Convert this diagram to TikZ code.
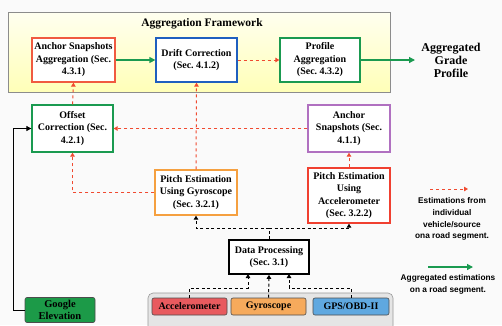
\documentclass[tikz,border=0pt]{standalone}
\usepackage{fontspec}
\setmainfont{Liberation Serif}
\setsansfont{Liberation Sans}
\usetikzlibrary{arrows.meta}
\frenchspacing
\definecolor{cRed}{HTML}{F05A40}
\definecolor{cBlue}{HTML}{1F5FBF}
\definecolor{cGreen}{HTML}{1A9A50}
\definecolor{cPurple}{HTML}{B070C0}
\definecolor{cOrange}{HTML}{F5A040}
\definecolor{cRed2}{HTML}{F04030}
\definecolor{cDash}{HTML}{F04A30}
\definecolor{fAcc}{HTML}{E85A5E}
\definecolor{fGyr}{HTML}{F6AA5C}
\definecolor{fGps}{HTML}{5FA8E0}
\definecolor{fGoo}{HTML}{1C9A48}
\tikzset{
  box/.style={draw, line width=1.3pt, fill=white, align=center, inner sep=0pt,
    font=\bfseries\fontsize{10}{12.5}\selectfont},
  sensor/.style={draw=black!70, line width=0.6pt, rounded corners=2pt, align=center, inner sep=0pt,
    font=\bfseries\fontsize{10}{11}\selectfont},
  reddash/.style={draw=cDash, line width=1pt, dash pattern=on 3pt off 3pt, -{Triangle[length=4pt,width=4.5pt]}},
  blkdash/.style={draw=black, line width=1pt, dash pattern=on 3pt off 2.5pt, -{Triangle[length=4pt,width=4.5pt]}},
  greenarr/.style={draw=cGreen, line width=1.3pt, -{Triangle[length=6pt,width=6pt]}},
  blkarr/.style={draw=black, line width=0.9pt, -{Triangle[length=5pt,width=5pt]}},
  plain/.style={align=center, font=\bfseries\fontsize{12}{13}\selectfont},
  legend/.style={align=center, font=\sffamily\bfseries\fontsize{8.3}{11.8}\selectfont}
}
\begin{document}
\begin{tikzpicture}[x=1pt,y=-1pt]
\useasboundingbox (0,0) rectangle (502,325);
\fill[black!2] (0,0) rectangle (502,325);
% framework
\draw[draw=black!45, line width=0.8pt, top color=yellow!6, bottom color=yellow!28] (8,12) rectangle (390,92);
\node[plain, font=\bfseries\fontsize{11.5}{12}\selectfont] (fwt) at (202,24) {Aggregation Framework};
\node[box, draw=cRed, minimum width=83pt, minimum height=44pt] (aagg) at (73.5,60) {Anchor Snapshots\\Aggregation (Sec.\\4.3.1)};
\node[box, draw=cBlue, minimum width=81pt, minimum height=44pt] (drift) at (196.5,60) {Drift Correction\\(Sec. 4.1.2)};
\node[box, draw=cGreen, minimum width=80pt, minimum height=44pt] (prof) at (320,60) {Profile\\Aggregation\\(Sec. 4.3.2)};
\node[plain] (out) at (451,60) {Aggregated\\Grade\\Profile};
% middle
\node[box, draw=cGreen, minimum width=81pt, minimum height=47pt] (off) at (72.5,128.5) {Offset\\Correction (Sec.\\4.2.1)};
\node[box, draw=cPurple, minimum width=82pt, minimum height=47pt] (asnap) at (349,128.5) {Anchor\\Snapshots (Sec.\\4.1.1)};
\node[box, draw=cOrange, minimum width=82pt, minimum height=45pt] (pgyr) at (196,192.5) {Pitch Estimation\\Using Gyroscope\\(Sec. 3.2.1)};
\node[box, draw=cRed2, minimum width=82pt, minimum height=55pt] (pacc) at (349,195.5) {Pitch Estimation\\Using\\Accelerometer\\(Sec. 3.2.2)};
\node[box, draw=black, line width=1.6pt, minimum width=80pt, minimum height=34pt] (dp) at (269,257) {Data Processing\\(Sec. 3.1)};
% sensors
\draw[draw=black!40, fill=black!10, line width=0.6pt, rounded corners=5pt] (148,293) rectangle (393,332);
\node[sensor, fill=fAcc, minimum width=75pt, minimum height=17pt] (sacc) at (189.5,306.5) {Accelerometer};
\node[sensor, fill=fGyr, minimum width=75pt, minimum height=17pt] (sgyr) at (268.5,306.5) {Gyroscope};
\node[sensor, fill=fGps, minimum width=76pt, minimum height=17pt] (sgps) at (351,306.5) {GPS/OBD-II};
\node[sensor, fill=fGoo, minimum width=70pt, minimum height=25pt, font=\bfseries\fontsize{10.5}{11.5}\selectfont] (goo) at (60,310) {Google\\Elevation};
% connectors top row
\draw[greenarr] (aagg) -- (drift);
\draw[reddash] (drift) -- (prof);
\draw[greenarr] (prof.east) -- (415,60);
% red dashed
\draw[reddash] (off.north) -- (aagg.south);
\draw[reddash] (pgyr.north) -- (drift.south);
\draw[reddash] (asnap.west) -- (off.east);
\draw[reddash] (pgyr.west) -| (off.south);
\draw[reddash] (pacc.north) -- (asnap.south);
% black dashed
\coordinate (dpj) at (269,228);
\draw[blkdash] (dp.north) -- (dpj) -| (pgyr.south);
\draw[blkdash] (dpj) -| (pacc.south);
\coordinate (dpa) at (248,274);
\coordinate (dpg) at (289,274);
\draw[blkdash] (sacc.north) |- (248,288) -- (dpa);
\draw[blkdash] (sgyr.north) -- (dp.south);
\draw[blkdash] (sgps.north) |- (289,288) -- (dpg);
% google elevation
\coordinate (gl) at (13,310);
\draw[blkarr] (goo.west) -- (gl) |- (off.west);
% legend
\coordinate (l1a) at (430,189);
\coordinate (l1b) at (468,189);
\draw[reddash] (l1a) -- (l1b);
\node[legend] (lt1) at (452,219) {Estimations from\\individual\\vehicle/source\\ona road segment.};
\coordinate (l2a) at (428,267);
\coordinate (l2b) at (473,267);
\draw[greenarr] (l2a) -- (l2b);
\node[legend] (lt2) at (448,284) {Aggregated estimations\\on a road segment.};
\end{tikzpicture}
\end{document}
